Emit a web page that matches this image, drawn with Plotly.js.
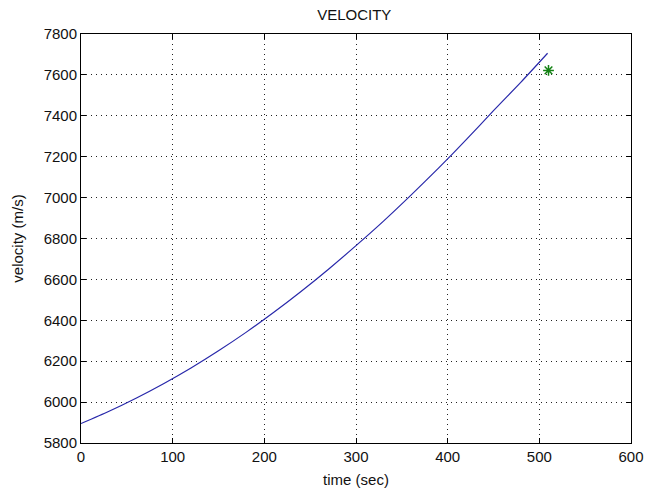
<!DOCTYPE html>
<html>
<head>
<meta charset="utf-8">
<script src="https://cdn.plot.ly/plotly-3.0.1.min.js"></script>
<style>
  html, body { margin: 0; padding: 0; background: #ffffff; }
  #chart { width: 656px; height: 488px; }
</style>
</head>
<body>
<div id="chart"></div>
<script>
// Velocity history of the ascent (time in seconds, velocity in m/s)
const timeSec = [0, 30, 60, 90, 120, 150, 180, 210, 240, 270, 300, 330, 360, 390, 420, 450, 480, 509];
const velocity = [5895, 5954, 6019, 6090, 6167, 6251, 6341, 6438, 6541, 6650, 6765, 6885, 7012, 7144, 7282, 7425, 7565, 7706];

// Target point marked with a star
const targetTime = [510];
const targetVelocity = [7622];

const xTicks = [0, 100, 200, 300, 400, 500, 600];
const yTicks = [5800, 6000, 6200, 6400, 6600, 6800, 7000, 7200, 7400, 7600, 7800];

const font = { family: 'Liberation Sans, Arial, sans-serif', size: 15, color: '#111111' };

const traces = [
  {
    x: timeSec,
    y: velocity,
    type: 'scatter',
    mode: 'lines',
    line: { color: 'rgb(40,40,170)', width: 1.2, shape: 'spline', smoothing: 0.6 },
    hoverinfo: 'skip'
  },
  {
    x: targetTime,
    y: targetVelocity,
    type: 'scatter',
    mode: 'markers',
    marker: { symbol: 'asterisk-open', size: 9, color: 'rgb(20,130,20)', line: { color: 'rgb(20,130,20)', width: 1.5 } },
    hoverinfo: 'skip'
  }
];

const axisCommon = {
  showline: true,
  linecolor: '#000000',
  linewidth: 1,
  mirror: 'ticks',
  ticks: 'inside',
  ticklen: 5,
  tickcolor: '#000000',
  showgrid: true,
  gridcolor: '#222222',
  gridwidth: 1,
  griddash: '1px,4px',
  zeroline: false,
  tickfont: font
};

const layout = {
  width: 656,
  height: 488,
  margin: { l: 81, r: 25, t: 34, b: 45, pad: 0 },
  paper_bgcolor: '#ffffff',
  plot_bgcolor: '#ffffff',
  showlegend: false,
  font: font,
  title: { text: 'VELOCITY', font: font, x: 0.54, xanchor: 'center', y: 0.97, yanchor: 'middle' },
  xaxis: Object.assign({}, axisCommon, {
    range: [0, 600],
    tickmode: 'array',
    tickvals: xTicks,
    ticktext: xTicks.map(String),
    title: { text: 'time (sec)', font: font, standoff: 10 }
  }),
  yaxis: Object.assign({}, axisCommon, {
    range: [5800, 7800],
    tickmode: 'array',
    tickvals: yTicks,
    ticktext: yTicks.map(String),
    title: { text: 'velocity (m/s)', font: font, standoff: 16 }
  })
};

Plotly.newPlot('chart', traces, layout, { displayModeBar: false, staticPlot: true });
</script>
</body>
</html>
